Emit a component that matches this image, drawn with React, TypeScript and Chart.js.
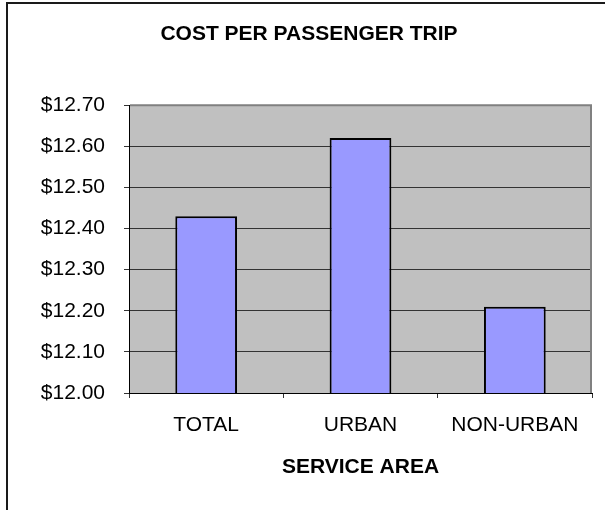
import React, { useEffect, useRef } from "react";
import { Chart, registerables } from "chart.js";

Chart.register(...registerables);

const categories = ["TOTAL", "URBAN", "NON-URBAN"];
const costPerTrip = [12.43, 12.62, 12.21];
const yTickValues = [12.0, 12.1, 12.2, 12.3, 12.4, 12.5, 12.6, 12.7];
const chartTitle = "COST PER PASSENGER TRIP";
const xAxisTitle = "SERVICE AREA";

const FONT = "'Liberation Sans', Arial, Helvetica, sans-serif";

export default function App() {
  const ref = useRef<HTMLCanvasElement>(null);

  useEffect(() => {
    if (!ref.current) return;
    const framePlugin = {
      id: "framePlugin",
      beforeDraw(chart: any) {
        const { ctx, chartArea: a, width, height } = chart;
        ctx.save();
        ctx.fillStyle = "#ffffff";
        ctx.fillRect(0, 0, width, height);
        ctx.fillStyle = "#c0c0c0";
        ctx.fillRect(a.left, a.top, a.right - a.left, a.bottom - a.top);
        ctx.strokeStyle = "#1a1a1a";
        ctx.lineWidth = 2;
        ctx.beginPath();
        ctx.moveTo(7, height + 10);
        ctx.lineTo(7, 3);
        ctx.lineTo(width + 10, 3);
        ctx.stroke();
        ctx.restore();
      },
      beforeDatasetsDraw(chart: any) {
        const { ctx, chartArea: a } = chart;
        ctx.save();
        ctx.strokeStyle = "#808080";
        ctx.lineWidth = 2;
        ctx.beginPath();
        ctx.moveTo(a.left + 1, a.top);
        ctx.lineTo(a.right - 1, a.top);
        ctx.lineTo(a.right - 1, a.bottom);
        ctx.stroke();
        ctx.restore();
      },
    };

    const chart = new Chart(ref.current, {
      type: "bar",
      data: {
        labels: categories,
        datasets: [
          {
            data: costPerTrip,
            backgroundColor: "#9999ff",
            borderColor: "#000000",
            borderWidth: 2,
            borderSkipped: false,
            barPercentage: 0.4,
            categoryPercentage: 1,
          },
        ],
      },
      options: {
        responsive: false,
        animation: false,
        devicePixelRatio: 1,
        layout: { padding: { left: 26, right: 13, top: 0, bottom: 0 } },
        plugins: {
          legend: { display: false },
          tooltip: { enabled: false },
          title: {
            display: true,
            text: chartTitle,
            color: "#000",
            font: { family: FONT, size: 21, weight: "bold" },
            padding: { top: 22, bottom: 58 },
          },
        },
        scales: {
          x: {
            grid: {
              display: true,
              drawOnChartArea: false,
              drawTicks: true,
              tickLength: 5,
              color: "#333333",
              offset: true,
            },
            border: { color: "#000000", width: 1 },
            ticks: {
              color: "#000",
              font: { family: FONT, size: 21 },
              padding: 15,
              maxRotation: 0,
            },
            title: {
              display: true,
              text: xAxisTitle,
              color: "#000",
              font: { family: FONT, size: 21, weight: "bold" },
              padding: { top: 0, bottom: 30 },
            },
            afterFit: (s: any) => {
              s.height = 117;
            },
          },
          y: {
            min: 12,
            max: 12.7,
            afterBuildTicks: (s: any) => {
              s.ticks = yTickValues.map((v) => ({ value: v }));
            },
            afterFit: (s: any) => {
              s.width = 103;
            },
            grid: {
              color: "#333333",
              lineWidth: 1,
              tickLength: 5,
              drawTicks: true,
            },
            border: { color: "#000000", width: 1 },
            ticks: {
              color: "#000",
              font: { family: FONT, size: 21 },
              padding: 19,
              callback: (v: any) => "$" + Number(v).toFixed(2),
            },
          },
        },
      },
      plugins: [framePlugin],
    } as any);

    return () => chart.destroy();
  }, []);

  return (
    <div
      style={{
        position: "fixed",
        left: 0,
        top: 0,
        width: 605,
        height: 510,
        overflow: "hidden",
        background: "#fff",
      }}
    >
      <canvas
        ref={ref}
        width={605}
        height={510}
        style={{ display: "block", width: 605, height: 510 }}
      />
    </div>
  );
}
